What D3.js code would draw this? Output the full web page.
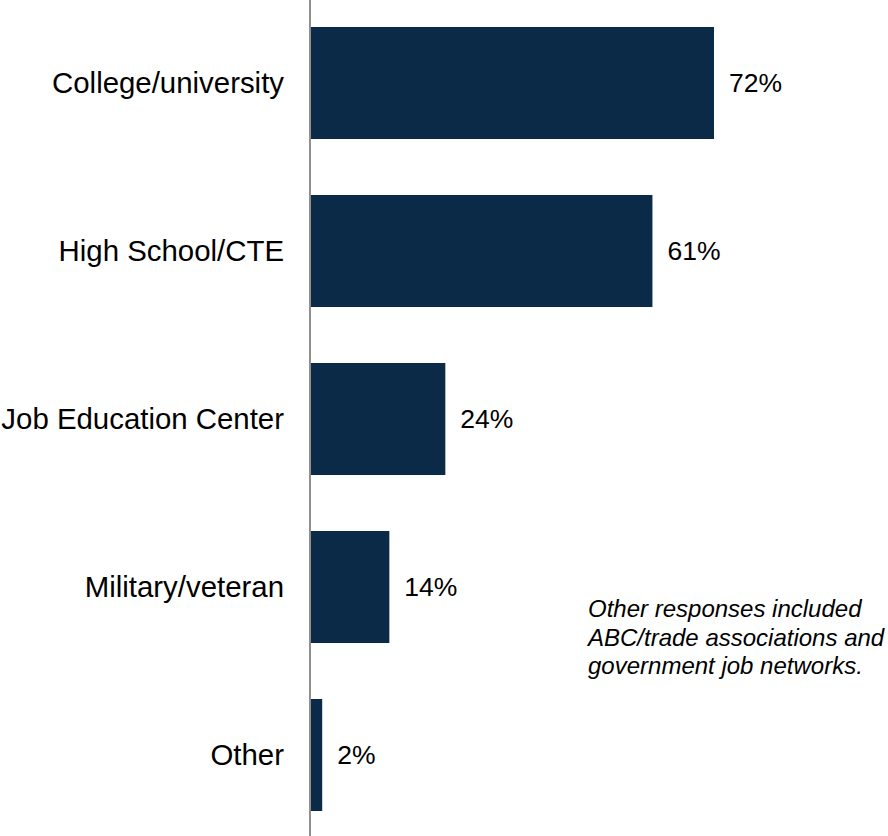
<!DOCTYPE html>
<html>
<head>
<meta charset="utf-8">
<script src="https://cdn.jsdelivr.net/npm/d3@7"></script>
<style>
  html, body { margin: 0; padding: 0; background: #fff; }
  svg { display: block; font-family: "Liberation Sans", Arial, sans-serif; }
</style>
</head>
<body>
<svg id="chart" width="888" height="836"></svg>
<script>
// Sources of recruited talent (share of respondents)
const categories = ["College/university", "High School/CTE", "Job Education Center", "Military/veteran", "Other"];
const values = [72, 61, 24, 14, 2];
const noteLines = [
  "Other responses included",
  "ABC/trade associations and",
  "government job networks."
];

const W = 888, H = 836;
const axisX = 310;
const svg = d3.select("#chart");

const x = d3.scaleLinear().domain([0, 72]).range([axisX + 1, 714]);
const y = d3.scaleBand()
  .domain(categories)
  .range([-1, 839])
  .paddingInner(1 / 3)
  .paddingOuter(1 / 6);

const rows = categories.map((c, i) => ({ cat: c, val: values[i] }));

// bars
svg.append("g").selectAll("rect")
  .data(rows)
  .join("rect")
  .attr("x", x(0))
  .attr("y", d => y(d.cat))
  .attr("width", d => x(d.val) - x(0))
  .attr("height", y.bandwidth())
  .attr("fill", "#0a2a47");

// vertical axis line
svg.append("line")
  .attr("x1", axisX).attr("x2", axisX)
  .attr("y1", 0).attr("y2", H)
  .attr("stroke", "#8f8f8f")
  .attr("stroke-width", 2);

// category labels
svg.append("g").selectAll("text")
  .data(rows)
  .join("text")
  .attr("x", 284)
  .attr("y", d => y(d.cat) + y.bandwidth() / 2)
  .attr("dy", "0.35em")
  .attr("text-anchor", "end")
  .attr("font-size", 29.4)
  .attr("fill", "#000")
  .text(d => d.cat);

// value labels
svg.append("g").selectAll("text")
  .data(rows)
  .join("text")
  .attr("x", d => x(d.val) + 15)
  .attr("y", d => y(d.cat) + y.bandwidth() / 2)
  .attr("dy", "0.35em")
  .attr("font-size", 26.5)
  .attr("fill", "#000")
  .text(d => d.val + "%");

// note
svg.append("text")
  .attr("x", 588)
  .attr("y", 617)
  .attr("font-size", 24)
  .attr("font-style", "italic")
  .attr("fill", "#000")
  .selectAll("tspan")
  .data(noteLines)
  .join("tspan")
  .attr("x", 588)
  .attr("dy", (d, i) => i === 0 ? 0 : 28.5)
  .text(d => d);
</script>
</body>
</html>
